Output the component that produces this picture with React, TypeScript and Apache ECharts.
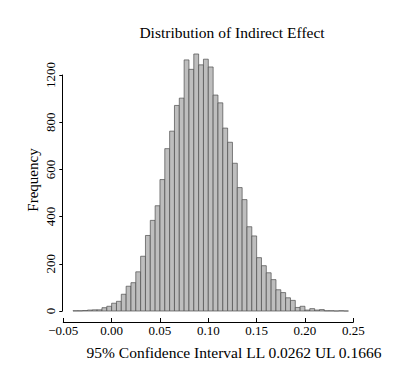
import React, { useEffect, useRef } from "react";
import * as echarts from "echarts";

const binStarts = [
  -0.04, -0.035, -0.03, -0.025, -0.02, -0.015, -0.01, -0.005, 0.0, 0.005,
  0.01, 0.015, 0.02, 0.025, 0.03, 0.035, 0.04, 0.045, 0.05, 0.055,
  0.06, 0.065, 0.07, 0.075, 0.08, 0.085, 0.09, 0.095, 0.1, 0.105,
  0.11, 0.115, 0.12, 0.125, 0.13, 0.135, 0.14, 0.145, 0.15, 0.155,
  0.16, 0.165, 0.17, 0.175, 0.18, 0.185, 0.19, 0.195, 0.2, 0.205,
  0.21, 0.215, 0.22, 0.225, 0.23, 0.235, 0.24,
];
const binWidth = 0.005;
const counts = [
  1, 1, 2, 4, 5, 5, 14, 20, 33, 41,
  71, 105, 120, 166, 232, 320, 384, 446, 557, 688,
  762, 871, 902, 1064, 1024, 1089, 1043, 1067, 1034, 915,
  882, 775, 715, 626, 523, 472, 357, 318, 226, 192,
  162, 133, 90, 78, 56, 45, 15, 20, 4, 10,
  4, 6, 1, 1, 0, 1, 0,
];
const yTickLabels: Record<number, string> = {
  0: "0", 200: "200", 400: "400", 600: "600", 800: "800", 1000: "1200",
};
const titleText = "Distribution of Indirect Effect";
const xTitle = "95% Confidence Interval LL 0.0262 UL 0.1666";
const yTitle = "Frequency";

const FONT = "'Liberation Serif', 'DejaVu Serif', serif";

export default function App() {
  const ref = useRef<HTMLDivElement>(null);
  useEffect(() => {
    if (!ref.current) return;
    const chart = echarts.init(ref.current, undefined, { renderer: "svg" });
    const data = binStarts.map((s, i) => [s, s + binWidth, counts[i]]);
    chart.setOption({
      animation: false,
      backgroundColor: "#ffffff",
      grid: { left: 63.3, right: 57.7, top: 75, bottom: 55 },
      xAxis: {
        type: "value",
        min: -0.05,
        max: 0.25,
        interval: 0.05,
        offset: 11,
        axisLine: { show: true, onZero: false, lineStyle: { color: "#000", width: 1 } },
        axisTick: { show: true, inside: true, length: 4, lineStyle: { color: "#000" } },
        axisLabel: {
          color: "#000",
          fontFamily: FONT,
          fontSize: 13,
          margin: 2,
          formatter: (v: number) => v.toFixed(2).replace("-", "\u2212"),
        },
        splitLine: { show: false },
      },
      yAxis: {
        type: "value",
        min: 0,
        max: 1000,
        interval: 200,
        offset: 1,
        axisLine: { show: true, onZero: false, lineStyle: { color: "#000", width: 1 } },
        axisTick: { show: true, length: 3, lineStyle: { color: "#000" } },
        axisLabel: {
          color: "#000",
          fontFamily: FONT,
          fontSize: 13,
          rotate: 90,
          margin: 5,
          formatter: (v: number) => yTickLabels[v] ?? String(v),
        },
        splitLine: { show: false },
      },
      graphic: [
        {
          type: "text",
          x: 232,
          y: 32,
          style: {
            text: titleText,
            fill: "#000",
            font: `15.5px ${FONT}`,
            textAlign: "center",
            textVerticalAlign: "middle",
          },
        },
        {
          type: "text",
          x: 234,
          y: 352,
          style: {
            text: xTitle,
            fill: "#000",
            font: `15.5px ${FONT}`,
            textAlign: "center",
            textVerticalAlign: "middle",
          },
        },
        {
          type: "text",
          x: 33,
          y: 180,
          rotation: Math.PI / 2,
          style: {
            text: yTitle,
            fill: "#000",
            font: `15px ${FONT}`,
            textAlign: "center",
            textVerticalAlign: "middle",
          },
        },
      ],
      series: [
        {
          type: "custom",
          clip: false,
          data,
          encode: { x: [0, 1], y: 2 },
          renderItem: (params: any, api: any) => {
            const p0 = api.coord([api.value(0), 0]);
            const p1 = api.coord([api.value(1), api.value(2)]);
            return {
              type: "rect",
              shape: { x: p0[0], y: p1[1], width: p1[0] - p0[0], height: p0[1] - p1[1] },
              style: { fill: "#bebebe", stroke: "#4d4d4d", lineWidth: 0.7 },
            };
          },
        },
      ],
    });
    return () => chart.dispose();
  }, []);
  return (
    <div
      ref={ref}
      style={{ position: "fixed", left: 0, top: 0, width: 411, height: 366 }}
    />
  );
}
